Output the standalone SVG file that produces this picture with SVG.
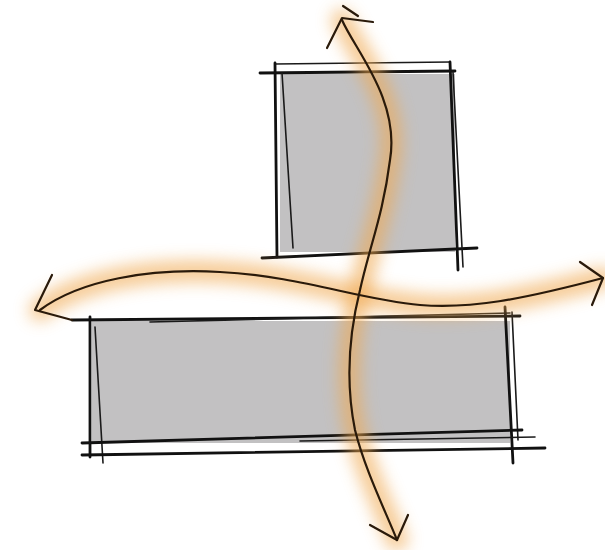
<svg xmlns="http://www.w3.org/2000/svg" width="605" height="550" viewBox="0 0 605 550">
<defs>
<filter id="glow" filterUnits="userSpaceOnUse" x="-50" y="-50" width="705" height="650"><feGaussianBlur stdDeviation="8"/></filter>
<style>
.fill{fill:#c2c1c2;stroke:none}
.pen{fill:none;stroke:#111;stroke-width:2.8;stroke-linecap:round}
.pen2{fill:none;stroke:#1a1a1a;stroke-width:1.6;stroke-linecap:round}
.glow{fill:none;stroke:#f0a850;stroke-width:22;stroke-linecap:round;opacity:0.6;filter:url(#glow)}
.arrow{fill:none;stroke:#2a1a0a;stroke-width:2.2;stroke-linecap:round;stroke-linejoin:round}
</style>
</defs>
<rect width="605" height="550" fill="#ffffff"/>
<g id="top-block">
<rect class="fill" x="280" y="74" width="175" height="178"/>
<path class="pen" d="M260,73 L455,71"/>
<path class="pen2" d="M275,64 L450,62"/>
<path class="pen" d="M275,63 L277,257"/>
<path class="pen2" d="M282,73 L293,248"/>
<path class="pen" d="M262,258 L477,248"/>
<path class="pen" d="M450,62 L458,270"/>
<path class="pen2" d="M453,72 L463,267"/>
</g>
<g id="bottom-block">
<rect class="fill" x="92" y="321" width="418" height="122"/>
<path class="pen" d="M72,320 L520,316"/>
<path class="pen2" d="M150,322 L510,313"/>
<path class="pen" d="M90,317 L90,457"/>
<path class="pen2" d="M95,327 L103,463"/>
<path class="pen" d="M505,307 L513,463"/>
<path class="pen2" d="M512,312 L518,440"/>
<path class="pen" d="M82,443 L522,430"/>
<path class="pen2" d="M300,441 L535,437"/>
<path class="pen" d="M82,455 L545,448"/>
</g>
<g id="connectors">
<path class="glow" d="M342,20 C355,50 400,100 390,160 C383,215 370,245 360,290 C350,330 345,380 355,430 C365,470 385,510 397,540"/>
<path class="glow" d="M40,310 C80,280 150,268 220,272 C300,276 360,300 420,305 C470,309 520,300 603,278"/>
<path class="arrow" d="M342,20 C355,50 400,100 390,160 C383,215 370,245 360,290 C350,330 345,380 355,430 C365,470 385,510 397,540"/>
<path class="arrow" stroke-width="2.8" d="M327,48 L342,18 L373,22 M343,6 L358,16"/>
<path class="arrow" stroke-width="2.8" d="M370,525 L397,540 L408,515"/>
<path class="arrow" d="M40,310 C80,280 150,268 220,272 C300,276 360,300 420,305 C470,309 520,300 603,278"/>
<path class="arrow" stroke-width="2.8" d="M52,275 L35,310 L72,320"/>
<path class="arrow" stroke-width="2.8" d="M580,262 L603,278 L592,305"/>
</g>
</svg>
